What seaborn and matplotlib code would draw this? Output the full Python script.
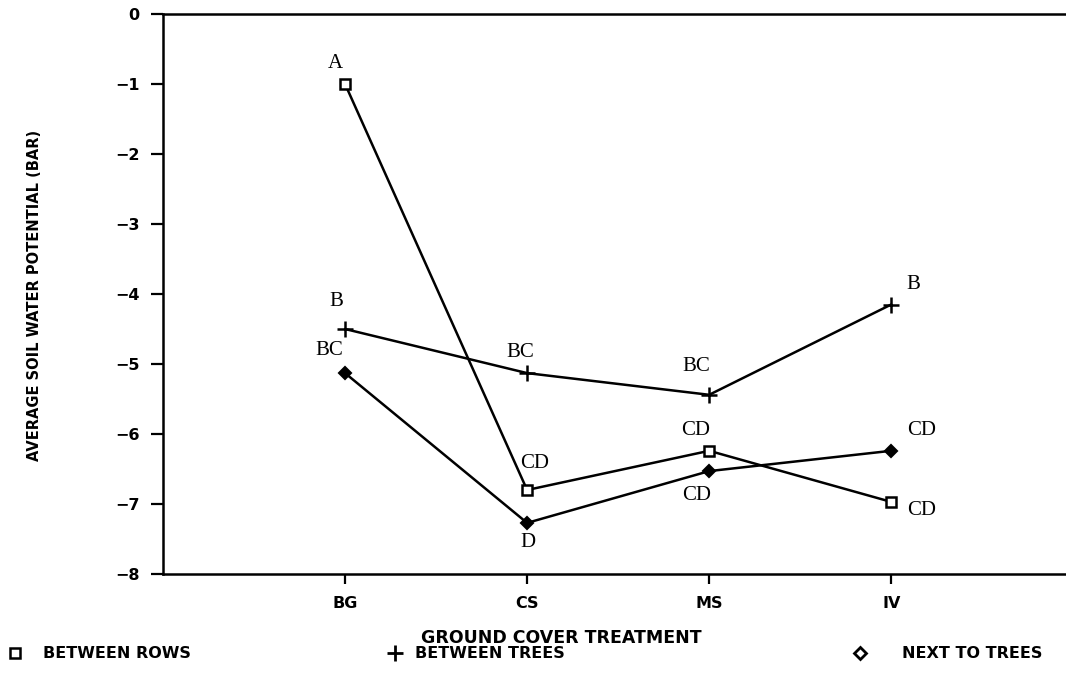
import matplotlib
matplotlib.use("Agg")
import matplotlib.pyplot as plt
from matplotlib.lines import Line2D
import seaborn as sns
import pandas as pd

# ---- data ----
treatments = ["BG", "CS", "MS", "IV"]
between_rows = [-1.0, -6.8, -6.24, -6.97]
between_trees = [-4.5, -5.13, -5.44, -4.15]
next_to_trees = [-5.13, -7.27, -6.53, -6.24]
letters_rows = ["A", "CD", "CD", "CD"]
letters_trees = ["B", "BC", "BC", "B"]
letters_next = ["BC", "D", "CD", "CD"]
series_names = ["BETWEEN ROWS", "BETWEEN TREES", "NEXT TO TREES"]
y_ticks = [0, -1, -2, -3, -4, -5, -6, -7, -8]

# label offsets in pixels (style, not data)
off_rows = [(-10, 21), (8, 27), (-14, 20), (30, -9)]
off_trees = [(-9, 27), (-7, 21), (-13, 28), (22, 20)]
off_next = [(-16, 23), (1, -20), (-13, -24), (30, 20)]

rows = []
for name, vals in zip(series_names, [between_rows, between_trees, next_to_trees]):
    for i, (t, v) in enumerate(zip(treatments, vals)):
        rows.append({"pos": i, "treatment": t, "value": v, "series": name})
df = pd.DataFrame(rows)

sns.set_theme(style="white")
plt.rcParams["font.family"] = ["DejaVu Sans"]
plt.rcParams["text.color"] = "black"

fig = plt.figure(figsize=(10.66, 6.73), dpi=100)
ax = fig.add_axes([163 / 1066, 1 - 574 / 673, 1 - 163 / 1066, (574 - 14) / 673])

markers = {"BETWEEN ROWS": "s", "BETWEEN TREES": "P", "NEXT TO TREES": "D"}
sns.lineplot(data=df, x="pos", y="value", hue="series", style="series",
             palette={n: "black" for n in series_names}, dashes=False,
             markers=markers, sort=False, linewidth=1.8, legend=False, ax=ax,
             markersize=7, markeredgewidth=1.5)

for line in ax.get_lines():
    m = line.get_marker()
    if m == "s":
        line.set_markerfacecolor("white")
        line.set_markeredgecolor("black")
        line.set_markersize(7)
        line.set_markeredgewidth(1.8)
    elif m == "P":
        line.set_marker("+")
        line.set_markersize(11)
        line.set_markeredgewidth(1.8)
        line.set_markeredgecolor("black")
    elif m == "D":
        line.set_markerfacecolor("black")
        line.set_markeredgecolor("black")
        line.set_markersize(6)

serif = ["Liberation Serif", "DejaVu Serif"]
for vals, lets, offs in [(between_rows, letters_rows, off_rows),
                         (between_trees, letters_trees, off_trees),
                         (next_to_trees, letters_next, off_next)]:
    for i, (v, l, o) in enumerate(zip(vals, lets, offs)):
        ax.annotate(l, (i, v), xytext=o, textcoords="offset pixels",
                    ha="center", va="center", fontsize=15, family=serif,
                    color="black")

ax.set_xlim(-1, 3.96)
ax.set_ylim(-8, 0)
ax.set_xticks(range(len(treatments)))
ax.set_xticklabels(treatments, fontsize=11.5, fontweight="bold")
ax.set_yticks(y_ticks)
ax.set_yticklabels([str(t).replace("-", "\u2212") for t in y_ticks],
                   fontsize=11.5, fontweight="bold")
ax.tick_params(axis="y", direction="out", length=9, width=1.6, pad=8,
               left=True, colors="black")
ax.tick_params(axis="x", direction="out", length=7, width=1.6, pad=9,
               bottom=True, colors="black")
for s in ["left", "bottom", "top"]:
    ax.spines[s].set_visible(True)
    ax.spines[s].set_color("black")
    ax.spines[s].set_linewidth(1.8)
ax.spines["right"].set_visible(False)
ax.set_xlabel("")
ax.set_ylabel("")
ax.grid(False)

fig.text(561 / 1066, 1 - 638 / 673, "GROUND COVER TREATMENT", ha="center",
         va="center", fontsize=12.5, fontweight="bold", color="black")
fig.text(35 / 1066, 1 - 295 / 673, "AVERAGE SOIL WATER POTENTIAL (BAR)",
         ha="center", va="center", rotation=90, fontsize=10.5,
         fontweight="bold", color="black")

# legend row
ly = 1 - 653 / 673
leg = [("s", 15, 43), ("+", 395, 415), ("D", 860, 902)]
for (mk, mx, tx), name in zip(leg, series_names):
    if mk == "s":
        kw = dict(markerfacecolor="white", markeredgecolor="black", markersize=7,
                  markeredgewidth=1.8)
    elif mk == "+":
        kw = dict(markeredgecolor="black", markersize=11, markeredgewidth=2)
    else:
        kw = dict(markerfacecolor="white", markeredgecolor="black", markersize=6,
                  markeredgewidth=2)
    fig.add_artist(Line2D([mx / 1066], [ly], marker=mk, linestyle="none",
                          transform=fig.transFigure, **kw))
    fig.text(tx / 1066, ly, name, ha="left", va="center", fontsize=11.5,
             fontweight="bold", color="black")

fig.savefig("out.png", dpi=100)
